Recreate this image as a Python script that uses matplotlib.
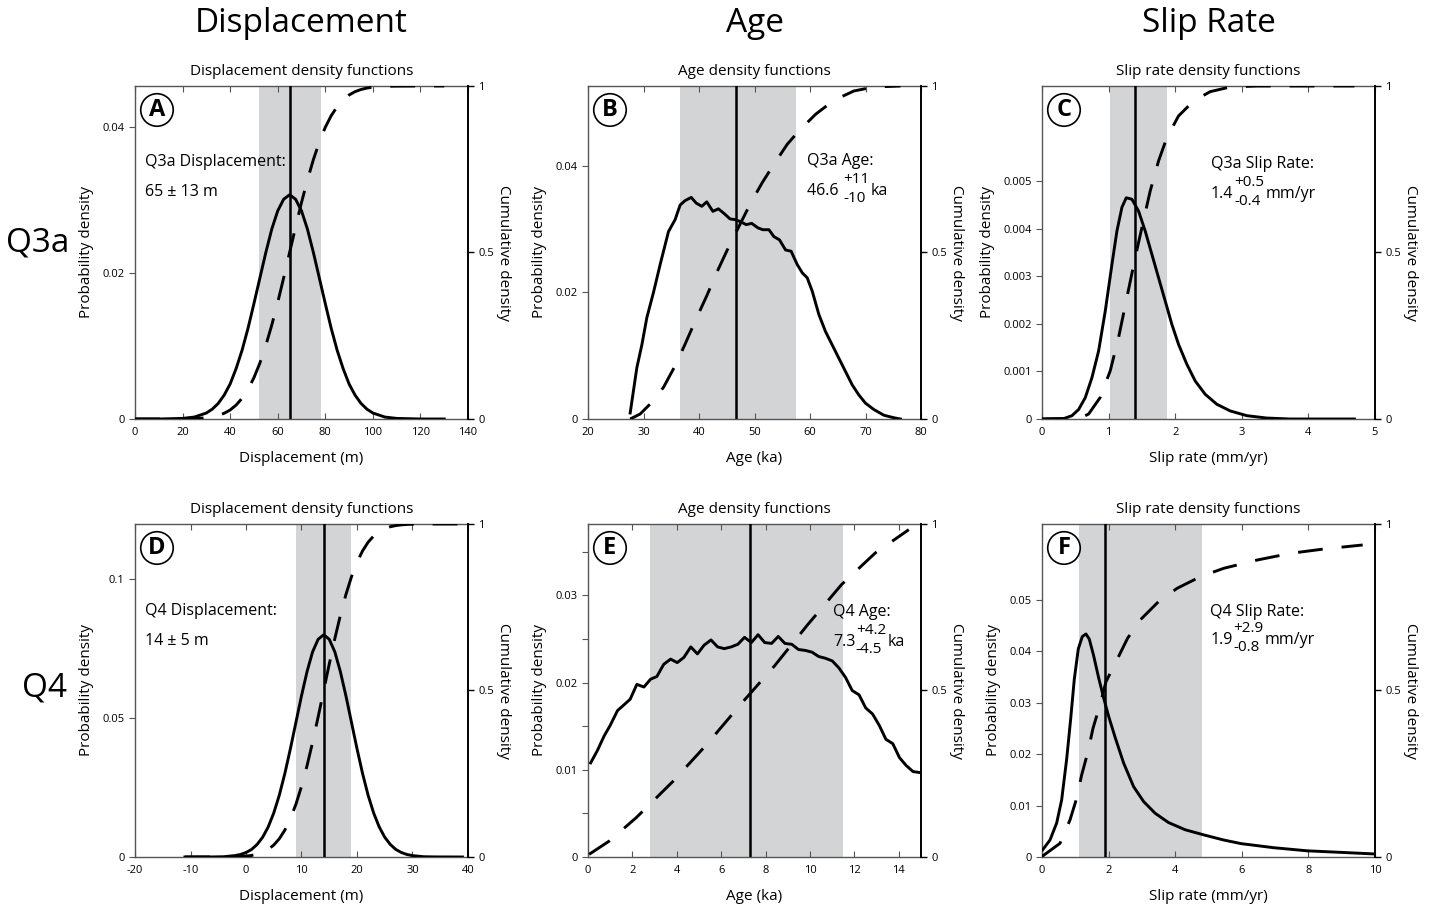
import numpy as np
import matplotlib.pyplot as plt

plt.rcParams['font.family'] = ['Open Sans', 'DejaVu Sans']

# ---- data ----
# Q3a displacement (m)
a_x = [0, 10, 20, 25, 30, 32.5, 35, 37.5, 40, 42.5, 45, 47.5, 50, 52.5, 55, 57.5, 60, 62.5, 65,
       67.5, 70, 72.5, 75, 77.5, 80, 82.5, 85, 87.5, 90, 92.5, 95, 97.5, 100, 105, 110, 120, 130]
a_pdf = [0, 0, 0.00008, 0.00027, 0.00082, 0.00135, 0.00214, 0.00328, 0.0048, 0.0069, 0.0094, 0.0124,
         0.0158, 0.0193, 0.0228, 0.0260, 0.0285, 0.0301, 0.0307, 0.0301, 0.0285, 0.0260, 0.0228,
         0.0193, 0.0158, 0.0124, 0.0094, 0.0069, 0.0048, 0.00328, 0.00214, 0.00135, 0.00082,
         0.00027, 0.00008, 0, 0]
a_cdf = [0, 0, 0.0003, 0.001, 0.0036, 0.0062, 0.0105, 0.0172, 0.027, 0.0418, 0.062, 0.089, 0.124,
         0.168, 0.221, 0.282, 0.350, 0.424, 0.5, 0.576, 0.650, 0.718, 0.779, 0.832, 0.876, 0.911,
         0.938, 0.958, 0.973, 0.983, 0.9895, 0.9938, 0.9964, 0.999, 0.9997, 1, 1]

# Q3a age (ka)
b_x = [27.6, 28.8, 29.7, 30.6, 31.8, 33.0, 34.5, 35.7, 36.6, 37.5, 38.6, 39.5, 40.5, 41.4, 42.5,
       43.5, 44.6, 45.6, 46.5, 47.4, 48.5, 49.5, 50.6, 51.5, 52.6, 53.5, 54.5, 55.6, 56.6, 57.7,
       58.6, 59.5, 60.4, 61.6, 62.8, 64.0, 65.2, 66.4, 67.6, 68.8, 70.0, 71.5, 73.3, 75.1, 76.3]
b_pdf = [0.00095, 0.0081, 0.0117, 0.016, 0.020, 0.0244, 0.0296, 0.0315, 0.0338, 0.0345, 0.035,
         0.0341, 0.0336, 0.0343, 0.0328, 0.0332, 0.0324, 0.0316, 0.0315, 0.0312, 0.0307, 0.0309,
         0.0302, 0.0299, 0.0299, 0.0288, 0.0283, 0.0267, 0.0265, 0.0244, 0.0231, 0.0223, 0.0202,
         0.0165, 0.0138, 0.0117, 0.0096, 0.0075, 0.0054, 0.0038, 0.0025, 0.0015, 0.0006, 0.0002, 0]
b_cx = [27.6, 29.4, 31.2, 33.6, 35.7, 37.5, 39.6, 41.4, 43.2, 45.3, 47.4, 49.2, 51.4, 53.5, 55.9,
        58.0, 61.0, 64.3, 67.9, 71.5, 76.3]
b_cdf = [0, 0.015, 0.045, 0.095, 0.16, 0.225, 0.305, 0.37, 0.44, 0.515, 0.585, 0.645, 0.71, 0.765,
         0.825, 0.865, 0.915, 0.957, 0.985, 0.997, 1.0]

# Q3a slip rate (mm/yr)
c_x = [0, 0.33, 0.45, 0.55, 0.65, 0.75, 0.85, 0.95, 1.05, 1.125, 1.2, 1.265, 1.35, 1.45, 1.55,
       1.65, 1.75, 1.85, 1.95, 2.05, 2.175, 2.3, 2.45, 2.625, 2.825, 3.075, 3.375, 3.725, 4.69]
c_pdf = [0, 0.00001, 0.00007, 0.0002, 0.00045, 0.00087, 0.00143, 0.00227, 0.00325, 0.00395,
         0.00445, 0.00465, 0.00462, 0.00437, 0.00395, 0.00346, 0.00297, 0.00248, 0.00199, 0.00157,
         0.00115, 0.0008, 0.00052, 0.00031, 0.00017, 0.00007, 0.00002, 0, 0]
c_cx = [0, 0.475, 0.6, 0.7, 0.875, 1.025, 1.15, 1.275, 1.4, 1.5, 1.625, 1.75, 1.875, 2.05, 2.275,
        2.525, 2.825, 3.225, 4.69]
c_cdf = [0, 0.001, 0.005, 0.015, 0.065, 0.145, 0.245, 0.365, 0.485, 0.575, 0.685, 0.775, 0.845,
         0.91, 0.955, 0.983, 0.997, 1.0, 1.0]

# Q4 displacement (m)
d_x = [-11, -6, -4, -2, -1, 0, 1, 2, 3, 4, 5, 6, 7, 8, 9, 10, 11, 12, 13, 14, 15, 16, 17, 18, 19,
       20, 21, 22, 23, 24, 25, 26, 27, 28, 29, 30, 32, 34, 39]
d_pdf = [0, 0.00003, 0.0001, 0.0005, 0.0009, 0.0016, 0.0027, 0.0045, 0.0071, 0.0108, 0.0158,
         0.0222, 0.0300, 0.0389, 0.0484, 0.0579, 0.0666, 0.0737, 0.0782, 0.0798, 0.0782, 0.0737,
         0.0666, 0.0579, 0.0484, 0.0389, 0.0300, 0.0222, 0.0158, 0.0108, 0.0071, 0.0045, 0.0027,
         0.0016, 0.0009, 0.0005, 0.0001, 0.00003, 0]
d_cdf = [0, 0.00003, 0.0002, 0.0007, 0.0013, 0.0026, 0.0047, 0.0082, 0.0139, 0.0228, 0.0359,
         0.0548, 0.0808, 0.1151, 0.1587, 0.2119, 0.2743, 0.3446, 0.4207, 0.5, 0.5793, 0.6554,
         0.7257, 0.7881, 0.8413, 0.8849, 0.9192, 0.9452, 0.9641, 0.9772, 0.9861, 0.9918, 0.9953,
         0.9974, 0.9987, 0.9993, 0.9998, 1.0, 1.0]

# Q4 age (ka)
e_x = [0.12, 0.42, 0.73, 1.0, 1.33, 1.64, 1.9, 2.2, 2.52, 2.82, 3.1, 3.41, 3.72, 4.02, 4.32, 4.63,
       4.93, 5.23, 5.54, 5.84, 6.14, 6.45, 6.75, 7.05, 7.36, 7.66, 7.96, 8.27, 8.57, 8.87, 9.18,
       9.48, 9.78, 10.09, 10.39, 10.69, 11.0, 11.3, 11.6, 11.9, 12.21, 12.51, 12.82, 13.12, 13.42,
       13.73, 14.03, 14.33, 14.64, 14.91]
e_pdf = [0.0108, 0.0122, 0.0139, 0.0151, 0.0168, 0.0175, 0.0181, 0.0198, 0.0195, 0.0204, 0.0207,
         0.0221, 0.0227, 0.0223, 0.0229, 0.0241, 0.0233, 0.0243, 0.0249, 0.0241, 0.0239, 0.0241,
         0.0244, 0.0252, 0.0246, 0.0255, 0.0246, 0.0245, 0.0253, 0.0245, 0.0244, 0.0238, 0.0237,
         0.0235, 0.0230, 0.0228, 0.0225, 0.0217, 0.0206, 0.0191, 0.0186, 0.0171, 0.0164, 0.0151,
         0.0135, 0.0130, 0.0114, 0.0105, 0.0098, 0.0097]
e_cx = [0.05, 0.96, 2.17, 3.84, 5.35, 6.87, 8.39, 9.9, 11.42, 12.94, 14.45]
e_cdf = [0.008, 0.048, 0.118, 0.228, 0.338, 0.458, 0.573, 0.698, 0.818, 0.913, 0.983]

# Q4 slip rate (mm/yr)
f_x = [0.02, 0.24, 0.44, 0.59, 0.74, 0.86, 0.97, 1.09, 1.21, 1.32, 1.42, 1.55, 1.70, 1.85, 2.0,
       2.2, 2.45, 2.75, 3.05, 3.4, 3.8, 4.3, 4.86, 5.46, 5.98, 6.97, 7.97, 8.98, 9.96]
f_pdf = [0.0014, 0.0033, 0.0066, 0.0111, 0.019, 0.0268, 0.0346, 0.0405, 0.0429, 0.0434, 0.0424,
         0.0392, 0.0349, 0.031, 0.0274, 0.0232, 0.0183, 0.0137, 0.0108, 0.0085, 0.0067, 0.0053,
         0.0043, 0.0033, 0.0026, 0.0018, 0.0012, 0.0009, 0.0006]
f_cx = [0, 0.02, 0.54, 0.84, 1.04, 1.19, 1.38, 1.53, 1.75, 1.92, 2.25, 2.57, 2.95, 3.5, 4.06, 4.76,
        5.46, 6.47, 7.47, 8.47, 9.63]
f_cdf = [0, 0.003, 0.041, 0.111, 0.176, 0.246, 0.316, 0.386, 0.46, 0.526, 0.592, 0.657, 0.712,
         0.767, 0.807, 0.842, 0.867, 0.892, 0.912, 0.925, 0.937]

col_titles = ['Displacement', 'Age', 'Slip Rate']
row_labels = ['Q3a', 'Q4']
sub_titles = ['Displacement density functions', 'Age density functions',
              'Slip rate density functions']
x_labels = ['Displacement (m)', 'Age (ka)', 'Slip rate (mm/yr)']
letters = ['A', 'B', 'C', 'D', 'E', 'F']

best = [65, 46.6, 1.4, 14, 7.3, 1.9]
band_lo = [52, 36.5, 1.02, 9, 2.8, 1.1]
band_hi = [78, 57.5, 1.88, 19, 11.5, 4.8]

xlims = [(0, 140), (20, 80), (0, 5), (-20, 40), (0, 15), (0, 10)]
xticks = [np.arange(0, 141, 20), np.arange(20, 81, 10), np.arange(0, 6, 1),
          np.arange(-20, 41, 10), np.arange(0, 15, 2), np.arange(0, 11, 2)]
ylims = [0.0456, 0.0526, 0.007, 0.1196, 0.0382, 0.0648]
yticks = [[0, 0.02, 0.04], [0, 0.02, 0.04], [0, 0.001, 0.002, 0.003, 0.004, 0.005],
          [0, 0.05, 0.1], [0, 0.01, 0.02, 0.03], [0, 0.01, 0.02, 0.03, 0.04, 0.05]]
ytick_labels = [['0', '0.02', '0.04'], ['0', '0.02', '0.04'],
                ['0', '0.001', '0.002', '0.003', '0.004', '0.005'],
                ['0', '0.05', '0.1'], ['0', '0.01', '0.02', '0.03'],
                ['0', '0.01', '0.02', '0.03', '0.04', '0.05']]

pdfs = [(a_x, a_pdf), (b_x, b_pdf), (c_x, c_pdf), (d_x, d_pdf), (e_x, e_pdf), (f_x, f_pdf)]
cdfs = [(a_x, a_cdf), (b_cx, b_cdf), (c_cx, c_cdf), (d_x, d_cdf), (e_cx, e_cdf), (f_cx, f_cdf)]

fig = plt.figure(figsize=(14.34, 9.15), dpi=100)
W, H = 1434.0, 915.0
lefts = [135, 588, 1042]
tops = [86, 524]
size = 333

axes = []
for i in range(6):
    r, c = divmod(i, 3)
    ax = fig.add_axes([lefts[c] / W, 1 - (tops[r] + size) / H, size / W, size / H])
    ax.axvspan(band_lo[i], band_hi[i], color='#d3d4d6', lw=0, zorder=0)
    ax.plot(pdfs[i][0], pdfs[i][1], color='black', lw=2.1, zorder=3)
    ax.axvline(best[i], color='black', lw=1.8, zorder=4)
    ax.set_xlim(*xlims[i])
    ax.set_ylim(0, ylims[i])
    ax.set_xticks(xticks[i])
    ax.set_xticklabels([str(v) for v in xticks[i]])
    ax.set_yticks(yticks[i])
    ax.set_yticklabels(ytick_labels[i])
    ax.tick_params(axis='x', direction='in', top=True, length=4, width=0.8, labelsize=8,
                   color='#555555', pad=6)
    ax.tick_params(axis='y', direction='out', length=4, width=0.8, labelsize=8, color='#555555')
    if i == 4:
        ax.set_yticks([0.005, 0.015, 0.025, 0.035], minor=True)
        ax.tick_params(axis='y', which='minor', direction='out', length=4, width=0.8,
                       color='#555555')
    for s in ['left', 'bottom', 'top']:
        ax.spines[s].set_color('#555555')
        ax.spines[s].set_linewidth(1.0)
    ax.spines['right'].set_visible(False)
    ax.set_xlabel(x_labels[c], fontsize=11, labelpad=9)
    ax.set_ylabel('Probability density', fontsize=11, labelpad=6)
    ax.set_title(sub_titles[c], fontsize=11, pad=8)

    ax2 = ax.twinx()
    ax2.plot(cdfs[i][0], cdfs[i][1], color='black', lw=2.1, dashes=[8.5, 6.5], zorder=3)
    ax2.set_ylim(0, 1)
    ax2.set_yticks([0, 0.5, 1])
    ax2.set_yticklabels(['0', '0.5', '1'])
    ax2.tick_params(axis='y', direction='out', length=4, width=1.0, labelsize=8)
    ax2.spines['right'].set_linewidth(1.4)
    for s in ['left', 'bottom', 'top']:
        ax2.spines[s].set_visible(False)
    ax2.set_ylabel('Cumulative density', fontsize=11, rotation=-90, labelpad=12)
    ax2.text(0.066, 0.928, letters[i], transform=ax2.transAxes, ha='center', va='center',
             fontsize=17, fontweight='bold',
             bbox=dict(boxstyle='circle,pad=0.18', fc='white', ec='black', lw=1.2))
    axes.append(ax2)


def value_text(ax, x, y, main, sup, sub, unit):
    t = ax.text(x, y, main, transform=ax.transAxes, ha='left', va='center', fontsize=11.5)
    s1 = ax.annotate(sup, xy=(1, 0.5), xycoords=t, xytext=(0.5, 8),
                     textcoords='offset points', ha='left', va='center', fontsize=11)
    s2 = ax.annotate(sub, xy=(1, 0.5), xycoords=t, xytext=(0.5, -5.5),
                     textcoords='offset points', ha='left', va='center', fontsize=11)
    ax.annotate(unit, xy=(1, 0.5), xycoords=(s1 if len(sup) >= len(sub) else s2, t),
                xytext=(1, 0), textcoords='offset points', ha='left', va='center',
                fontsize=11.5)


ax = axes[0]
ax.text(0.03, 0.772, 'Q3a Displacement:', transform=ax.transAxes, va='center', fontsize=11.5)
ax.text(0.03, 0.682, '65 \u00b1 13 m', transform=ax.transAxes, va='center', fontsize=11.5)
ax = axes[1]
ax.text(0.658, 0.775, 'Q3a Age:', transform=ax.transAxes, va='center', fontsize=11.5)
value_text(ax, 0.658, 0.685, '46.6 ', '+11', '-10', 'ka')
ax = axes[2]
ax.text(0.507, 0.766, 'Q3a Slip Rate:', transform=ax.transAxes, va='center', fontsize=11.5)
value_text(ax, 0.507, 0.676, '1.4', '+0.5', '-0.4', 'mm/yr')
ax = axes[3]
ax.text(0.03, 0.739, 'Q4 Displacement:', transform=ax.transAxes, va='center', fontsize=11.5)
ax.text(0.03, 0.649, '14 \u00b1 5 m', transform=ax.transAxes, va='center', fontsize=11.5)
ax = axes[4]
ax.text(0.735, 0.736, 'Q4 Age:', transform=ax.transAxes, va='center', fontsize=11.5)
value_text(ax, 0.735, 0.646, '7.3', '+4.2', '-4.5', 'ka')
ax = axes[5]
ax.text(0.505, 0.736, 'Q4 Slip Rate:', transform=ax.transAxes, va='center', fontsize=11.5)
value_text(ax, 0.505, 0.652, '1.9', '+2.9', '-0.8', 'mm/yr')

for c in range(3):
    fig.text((lefts[c] + size / 2) / W, 1 - 24 / H, col_titles[c], ha='center', va='center',
             fontsize=24)
fig.text(38 / W, 1 - 243 / H, row_labels[0], ha='center', va='center', fontsize=24)
fig.text(45 / W, 1 - 688 / H, row_labels[1], ha='center', va='center', fontsize=24)

fig.savefig('out.png', dpi=100)
